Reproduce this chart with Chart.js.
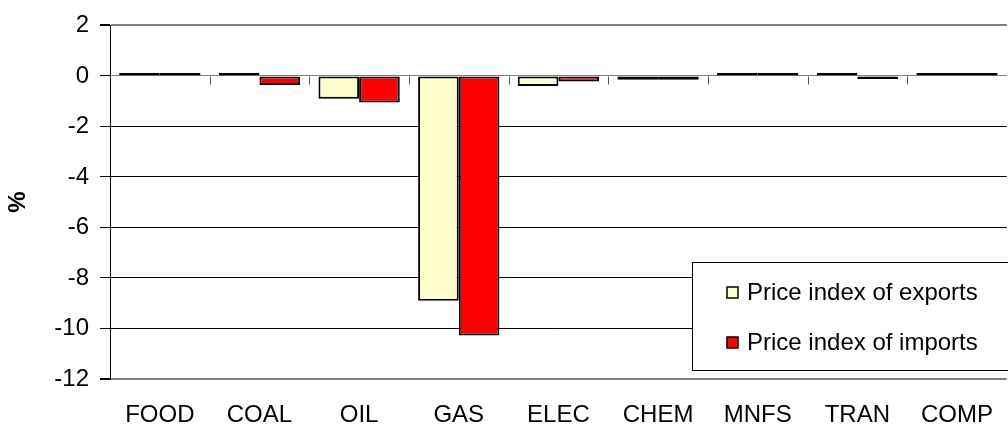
<!DOCTYPE html>
<html>
<head>
<meta charset="utf-8">
<script src="https://cdn.jsdelivr.net/npm/chart.js@4/dist/chart.umd.min.js"></script>
<style>
  html, body { margin: 0; padding: 0; background: #fff; overflow: hidden; }
  #wrap { width: 1015px; height: 430px; }
</style>
</head>
<body>
<div id="wrap"><canvas id="mycanvas"></canvas></div>
<script>
// values (%)
var sectors = ['FOOD', 'COAL', 'OIL', 'GAS', 'ELEC', 'CHEM', 'MNFS', 'TRAN', 'COMP'];
var exportsIdx = [0.04, 0.03, -0.9, -8.9, -0.4, -0.15, 0.03, 0.03, 0.08];
var importsIdx = [0.04, -0.36, -1.05, -10.28, -0.22, -0.15, 0.03, -0.02, 0.03];
var yTicks = [2, 0, -2, -4, -6, -8, -10, -12];

var font = { family: '"Liberation Sans", Arial, sans-serif', size: 24 };

// category axis drawn through zero, Excel style
var zeroAxis = {
  id: 'zeroAxis',
  beforeDatasetsDraw: function(chart) {
    var ctx = chart.ctx, x = chart.scales.x, y = chart.scales.y;
    var y0 = Math.round(y.getPixelForValue(0)) + 0.5;
    ctx.save();
    ctx.strokeStyle = '#555';
    ctx.lineWidth = 1;
    ctx.beginPath();
    for (var i = 1; i < sectors.length; i++) {
      var xp = Math.round(x.getPixelForValue(i - 0.5)) + 0.5;
      ctx.moveTo(xp, y0);
      ctx.lineTo(xp, y0 + 8);
    }
    ctx.stroke();
    ctx.restore();
  }
};

// boxed legend inside the plot
var boxLegend = {
  id: 'boxLegend',
  afterDraw: function(chart) {
    var ctx = chart.ctx;
    var left = 692.5, top = 262.5, w = 340, h = 108;
    ctx.save();
    ctx.fillStyle = '#fff';
    ctx.fillRect(left, top, w, h);
    ctx.strokeStyle = '#000';
    ctx.lineWidth = 1;
    ctx.strokeRect(left, top, w, h);
    ctx.font = font.size + 'px ' + font.family;
    ctx.textBaseline = 'middle';
    chart.data.datasets.forEach(function(ds, i) {
      var cy = 292 + i * 50;
      ctx.fillStyle = ds.backgroundColor;
      ctx.fillRect(727, cy - 5, 11, 11);
      ctx.strokeStyle = '#000';
      ctx.lineWidth = 1.5;
      ctx.strokeRect(727, cy - 5, 11, 11);
      ctx.fillStyle = '#000';
      ctx.fillText(ds.label, 747, cy + 1);
    });
    ctx.restore();
  }
};

var chartdata = {
  labels: sectors,
  datasets: [
    {
      label: 'Price index of exports',
      backgroundColor: '#FFFFCC',
      borderColor: '#000',
      borderWidth: 2,
      borderSkipped: false,
      minBarLength: 3,
      data: exportsIdx
    },
    {
      label: 'Price index of imports',
      backgroundColor: '#FF0000',
      borderColor: '#000',
      borderWidth: 2,
      borderSkipped: false,
      minBarLength: 3,
      data: importsIdx
    }
  ]
};

var ctx = document.getElementById('mycanvas');
var barGraph = new Chart(ctx, {
  type: 'bar',
  data: chartdata,
  plugins: [zeroAxis, boxLegend],
  options: {
    responsive: true,
    maintainAspectRatio: false,
    animation: false,
    layout: { padding: { top: 18, right: 0, bottom: 0, left: 0 } },
    datasets: { bar: { categoryPercentage: 0.816, barPercentage: 1.0 } },
    plugins: {
      legend: { display: false },
      tooltip: { enabled: false }
    },
    scales: {
      x: {
        grid: { display: false, drawTicks: false },
        border: { display: false },
        ticks: { font: font, color: '#000', padding: 22, maxRotation: 0 },
        afterFit: function(s) { s.height = 51; }
      },
      y: {
        min: -12,
        max: 2,
        afterBuildTicks: function(s) {
          s.ticks = yTicks.map(function(v) { return { value: v }; });
        },
        ticks: { font: font, color: '#000', padding: 11 },
        grid: {
          color: function(c) {
            var v = c.tick && c.tick.value;
            return (v === 2 || v === -12 || v === 0) ? '#808080' : '#000';
          },
          lineWidth: function(c) {
            var v = c.tick && c.tick.value;
            return (v === 2 || v === -12) ? 2 : 1;
          },
          tickLength: 10,
          tickColor: '#000'
        },
        border: { color: '#000', width: 1 },
        title: {
          display: true,
          text: '%',
          color: '#000',
          font: { family: font.family, size: 24, weight: 'bold' }
        },
        afterFit: function(s) { s.width = 110; }
      }
    }
  }
});
</script>
</body>
</html>
